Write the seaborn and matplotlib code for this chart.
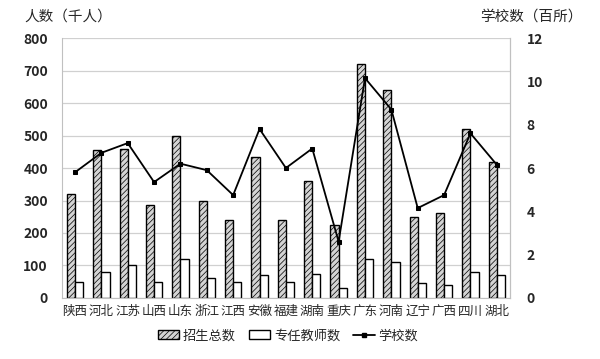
import numpy as np
import pandas as pd
import seaborn as sns
import matplotlib.pyplot as plt
from matplotlib.lines import Line2D
from matplotlib.patches import Patch

provinces = ['陕西', '河北', '江苏', '山西', '山东', '浙江', '江西', '安徽', '福建',
             '湖南', '重庆', '广东', '河南', '辽宁', '广西', '四川', '湖北']
enrollment = [320, 455, 460, 285, 500, 300, 240, 435, 240, 360, 225, 720, 640, 250, 260, 520, 420]
teachers = [50, 80, 100, 50, 120, 60, 50, 70, 50, 75, 30, 120, 110, 45, 40, 80, 70]
schools = [5.8, 6.7, 7.15, 5.35, 6.2, 5.9, 4.75, 7.8, 6.0, 6.9, 2.6, 10.15, 8.7, 4.15, 4.75, 7.6, 6.15]

series_names = ['招生总数', '专任教师数']


def build_frame():
    df = pd.DataFrame({'省份': provinces, '招生总数': enrollment, '专任教师数': teachers})
    return df.melt(id_vars='省份', var_name='类别', value_name='人数')


def main():
    sns.set_style('white')
    plt.rcParams['font.family'] = ['Noto Sans CJK SC', 'DejaVu Sans']
    plt.rcParams['hatch.linewidth'] = 0.5

    fig = plt.figure(figsize=(6, 3.59), dpi=100)
    ax = fig.add_axes([0.103, 0.17, 0.747, 0.724])

    long_df = build_frame()
    sns.barplot(data=long_df, x='省份', y='人数', hue='类别', hue_order=series_names,
                palette={'招生总数': '#d4d4d4', '专任教师数': 'white'},
                width=0.62, edgecolor='black', linewidth=1.0, ax=ax, legend=False)
    n = len(provinces)
    for i, patch in enumerate(ax.patches):
        if i < n:
            patch.set_hatch('//////')

    ax.set_ylim(0, 800)
    ax.set_yticks(range(0, 801, 100))
    ax.set_xlim(-0.5, n - 0.5)
    ax.yaxis.grid(True, color='#d0d0d0', linewidth=0.9)
    ax.set_axisbelow(True)
    ax.set_xlabel('')
    ax.set_ylabel('')
    for s in ['left', 'right', 'top', 'bottom']:
        ax.spines[s].set_color('#c0c0c0')
    ax.spines['top'].set_visible(False)
    ax.tick_params(axis='y', labelsize=10, length=0, pad=10)
    ax.tick_params(axis='x', labelsize=9, length=0, pad=5)
    for lab in ax.get_yticklabels():
        lab.set_fontweight('bold')

    ax2 = ax.twinx()
    sns.lineplot(x=np.arange(n), y=schools, ax=ax2, color='black', marker='s',
                 markersize=3.5, linewidth=1.3, markeredgecolor='black')
    ax2.set_ylim(0, 12)
    ax2.set_yticks(range(0, 13, 2))
    ax2.tick_params(axis='y', labelsize=10, length=0, pad=12)
    for lab in ax2.get_yticklabels():
        lab.set_fontweight('bold')
    for s in ['left', 'right', 'top', 'bottom']:
        ax2.spines[s].set_visible(False)
    ax2.spines['right'].set_visible(True)
    ax2.spines['right'].set_color('#c0c0c0')

    fig.text(0.04, 0.955, '人数（千人）', fontsize=10.5, va='center')
    fig.text(0.80, 0.955, '学校数（百所）', fontsize=10.5, va='center')

    handles = [Patch(facecolor='#d4d4d4', edgecolor='black', hatch='//////'),
               Patch(facecolor='white', edgecolor='black'),
               Line2D([], [], color='black', marker='s', markersize=3.5, linewidth=1.3)]
    fig.legend(handles, ['招生总数', '专任教师数', '学校数'], loc='center',
               bbox_to_anchor=(0.48, 0.065), ncol=3, frameon=False, fontsize=9.5,
               handlelength=1.6, handletextpad=0.3, columnspacing=1.0)

    fig.savefig('out.png', dpi=100)


if __name__ == "__main__":
    main()
